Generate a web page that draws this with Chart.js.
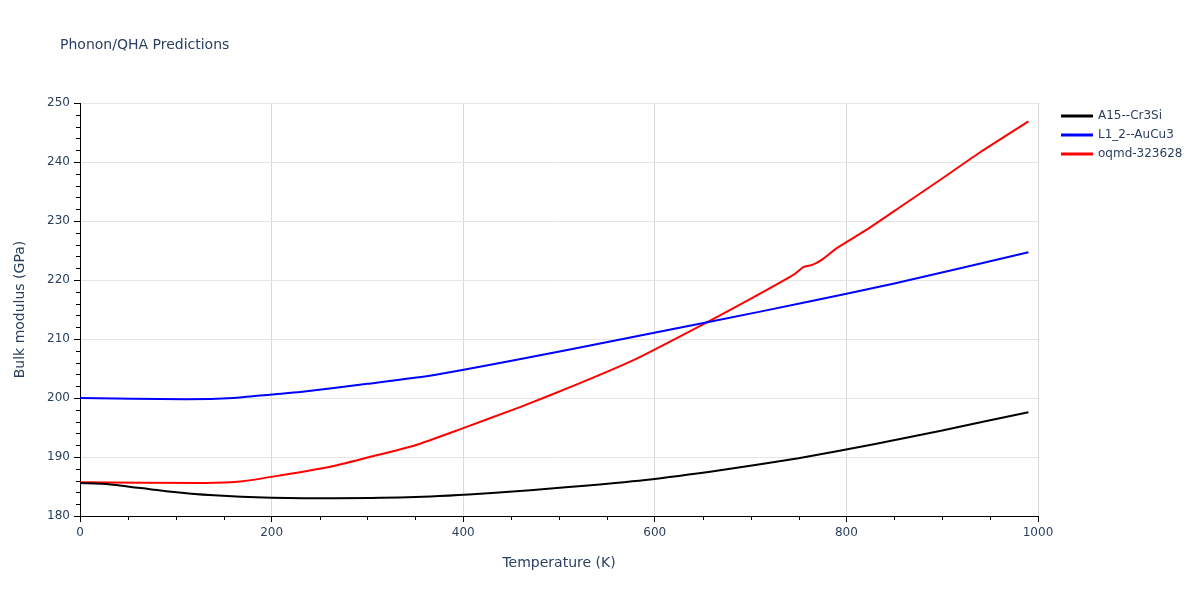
<!DOCTYPE html>
<html lang="en">
<head>
    <meta charset="UTF-8">
    <title>Phonon/QHA Predictions</title>
    <script src="https://cdn.jsdelivr.net/npm/chart.js"></script>
    <style>
        html, body { margin: 0; padding: 0; background: #fff; }
        #wrap { width: 1200px; height: 600px; }
    </style>
</head>
<body>
    <div id="wrap"><canvas id="qhaChart" width="1200" height="600"></canvas></div>

    <script>
        // temperatures (K) and bulk modulus (GPa)
        const cr3siT = [0, 30, 90, 140, 200, 266, 350, 430, 510, 590, 670, 750, 830, 900, 990];
        const cr3siB = [185.6, 185.4, 184.2, 183.5, 183.1, 183.0, 183.2, 183.9, 184.9, 186.1, 187.8, 189.8, 192.2, 194.5, 197.6];

        const aucu3T = [0, 110, 160, 200, 230, 300, 370, 460, 560, 660, 760, 850, 990];
        const aucu3B = [200.0, 199.8, 200.0, 200.6, 201.0, 202.4, 203.9, 206.6, 209.8, 213.0, 216.3, 219.4, 224.7];

        const oqmdT = [0, 130, 170, 210, 260, 300, 350, 400, 460, 520, 580, 640, 700, 745, 755, 765, 775, 790, 820, 860, 900, 940, 990];
        const oqmdB = [185.7, 185.6, 185.9, 186.9, 188.3, 189.9, 192.0, 194.9, 198.5, 202.4, 206.6, 211.6, 216.8, 220.9, 222.2, 222.6, 223.5, 225.4, 228.4, 232.8, 237.2, 241.7, 246.9];

        const seriesNames = ['A15--Cr3Si', 'L1_2--AuCu3', 'oqmd-323628'];
        const seriesColors = ['#000000', '#0000ff', '#ff0000'];

        const toPoints = (xs, ys) => xs.map((x, i) => ({ x: x, y: ys[i] }));
        const allSeries = [toPoints(cr3siT, cr3siB), toPoints(aucu3T, aucu3B), toPoints(oqmdT, oqmdB)];

        const textColor = '#2a3f5f';
        const fontFamily = '"DejaVu Sans", Verdana, sans-serif';
        Chart.defaults.font.family = fontFamily;
        Chart.defaults.color = textColor;

        // fix legend width so the plot area ends where the original does,
        // then nudge the legend right a bit
        const legendWidthPlugin = {
            id: 'legendWidth',
            beforeInit(chart) {
                const origFit = chart.legend.fit;
                chart.legend.fit = function () {
                    origFit.bind(chart.legend)();
                    this.width = 162;
                };
            },
            afterLayout(chart) {
                chart.legend.left += 17;
                chart.legend.right += 17;
            }
        };

        // chart title, placed like the original (left offset)
        const titlePlugin = {
            id: 'leftTitle',
            afterDraw(chart) {
                const c = chart.ctx;
                c.save();
                c.font = '14px ' + fontFamily;
                c.fillStyle = textColor;
                c.textBaseline = 'middle';
                c.fillText('Phonon/QHA Predictions', 60, 45);
                c.restore();
            }
        };

        // minor ticks drawn outside the axes (every 50 K / 2 GPa)
        const minorTicks = {
            id: 'minorTicks',
            afterDatasetsDraw(chart) {
                const c = chart.ctx;
                const xs = chart.scales.x, ys = chart.scales.y;
                c.save();
                c.strokeStyle = '#000';
                c.lineWidth = 1;
                c.beginPath();
                for (let v = 50; v < 1000; v += 50) {
                    if (v % 200 === 0) continue;
                    const px = Math.round(xs.getPixelForValue(v)) + 0.5;
                    c.moveTo(px, ys.bottom);
                    c.lineTo(px, ys.bottom + 4);
                }
                for (let v = 182; v < 250; v += 2) {
                    if (v % 10 === 0) continue;
                    const py = Math.round(ys.getPixelForValue(v)) + 0.5;
                    c.moveTo(xs.left, py);
                    c.lineTo(xs.left - 4, py);
                }
                c.stroke();
                c.restore();
            }
        };

        const ctx = document.getElementById('qhaChart').getContext('2d');
        new Chart(ctx, {
            type: 'line',
            data: {
                datasets: allSeries.map((pts, i) => ({
                    label: seriesNames[i],
                    data: pts,
                    borderColor: seriesColors[i],
                    backgroundColor: seriesColors[i],
                    borderWidth: 2,
                    pointRadius: 0,
                    tension: 0.2,
                    fill: false
                }))
            },
            options: {
                responsive: false,
                animation: false,
                layout: { padding: { left: 0, right: 0, top: 103, bottom: 0 } },
                plugins: {
                    title: { display: false },
                    legend: {
                        position: 'right',
                        align: 'start',
                        fullSize: false,
                        labels: {
                            boxWidth: 30,
                            boxHeight: 1,
                            padding: 7,
                            font: { size: 12 },
                            color: textColor
                        }
                    },
                    tooltip: { enabled: false }
                },
                scales: {
                    x: {
                        type: 'linear',
                        min: 0,
                        max: 1000,
                        ticks: {
                            stepSize: 200,
                            font: { size: 12 },
                            color: textColor,
                            padding: 4,
                            callback: v => String(v)
                        },
                        grid: { color: '#d9d9d9', tickLength: 6, tickColor: '#000' },
                        border: { color: '#000', width: 1 },
                        title: {
                            display: true,
                            text: 'Temperature (K)',
                            font: { size: 14 },
                            color: textColor,
                            padding: { top: 0, bottom: 28 }
                        },
                        afterFit(scale) { scale.height = 84; }
                    },
                    y: {
                        min: 180,
                        max: 250,
                        ticks: { stepSize: 10, font: { size: 12 }, color: textColor, padding: 4 },
                        grid: { color: '#e5e5e5', tickLength: 6, tickColor: '#000' },
                        border: { color: '#000', width: 1 },
                        title: {
                            display: true,
                            text: 'Bulk modulus (GPa)',
                            font: { size: 14 },
                            color: textColor,
                            padding: { top: 12, bottom: 0 }
                        },
                        afterFit(scale) { scale.width = 80; }
                    }
                }
            },
            plugins: [legendWidthPlugin, titlePlugin, minorTicks]
        });
    </script>
</body>
</html>
